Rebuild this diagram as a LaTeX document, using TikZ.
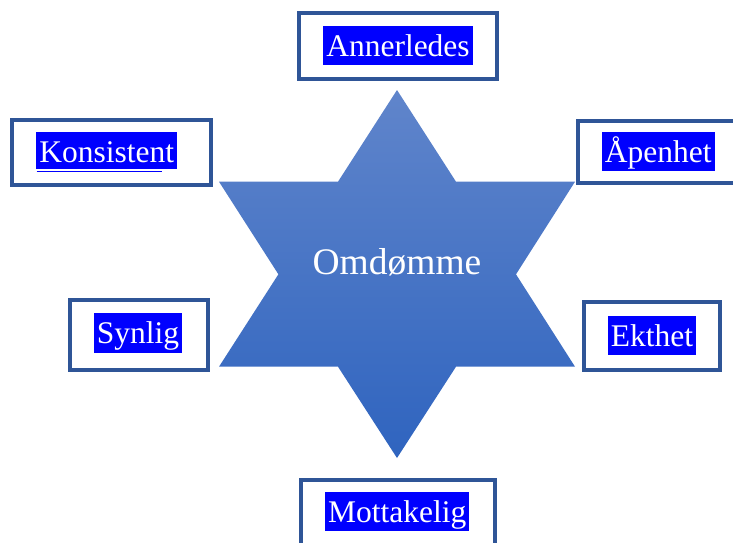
\documentclass[tikz,border=0pt]{standalone}
\usepackage{fontspec}
\setmainfont{Liberation Serif}
\definecolor{framecol}{RGB}{47,85,151}
\definecolor{startop}{RGB}{96,133,203}
\definecolor{starbot}{RGB}{47,100,191}
\definecolor{hilite}{RGB}{0,0,255}
\tikzset{
  frame/.style={draw=framecol, line width=4pt, fill=white, inner sep=0pt},
  label/.style={anchor=base, fill=hilite, text=white, inner xsep=3pt, inner ysep=0pt,
    text height=30.6pt, text depth=8.7pt, font=\fontsize{31.5}{38}\selectfont},
}
\begin{document}
\begin{tikzpicture}[x=1pt, y=-1pt]
  \useasboundingbox (0,0) rectangle (733,542);
  \clip (0,0) rectangle (733,542);

  % six-pointed star
  \shade[top color=startop, bottom color=starbot]
    (397,90) -- (456,181.7) -- (575,181.7) -- (516,274.3) -- (575,366.7)
    -- (456,366.7) -- (397,458) -- (338,366.7) -- (219,366.7) -- (278.4,274.3)
    -- (219,181.7) -- (338,181.7) -- cycle;
  \node[anchor=base, text=white, inner sep=0pt, font=\fontsize{37.5}{44}\selectfont]
    (omd) at (397,274.5) {Omdømme};

  % framed value boxes
  \node[frame, minimum width=198.3pt, minimum height=66.3pt] (fA) at (397.85,45.85) {};
  \node[frame, minimum width=199pt, minimum height=65pt] (fK) at (111.5,152.8) {};
  \node[frame, minimum width=162pt, minimum height=61.7pt] (fP) at (659,152.15) {};
  \node[frame, minimum width=137.7pt, minimum height=69.4pt] (fS) at (139.15,335) {};
  \node[frame, minimum width=135.4pt, minimum height=67.7pt] (fE) at (652,335.85) {};
  \node[frame, minimum width=193.7pt, minimum height=80pt] (fM) at (397.85,520.3) {};

  % highlighted labels
  \node[label] (tA) at (398,56.3) {Annerledes};
  \node[label, text depth=6.5pt] (tK) at (106.7,162.3) {Konsistent};
  \node[label] (tP) at (658.2,162.3) {Åpenhet};
  \node[label] (tS) at (137.9,343.9) {Synlig};
  \node[label] (tE) at (652,346.6) {Ekthet};
  \node[label] (tM) at (397.3,522.3) {Mottakelig};

  % underline beneath the left label
  \coordinate (uL) at (36.7,171.6);
  \coordinate (uR) at (161.7,171.6);
  \draw[hilite, line width=1.4pt] (uL) -- (uR);
\end{tikzpicture}
\end{document}
